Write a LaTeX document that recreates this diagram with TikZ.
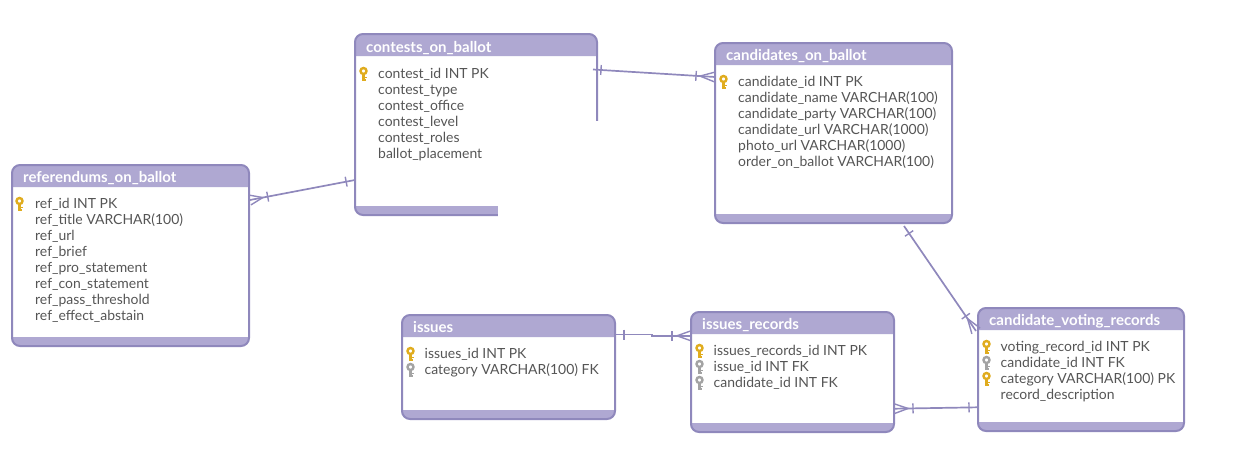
\documentclass[tikz,border=0pt]{standalone}
\usepackage{fontspec}
\setmainfont{Lato}
\usetikzlibrary{calc}
\definecolor{edgecol}{HTML}{8F88BC}
\definecolor{bandcol}{HTML}{AFA8D2}
\definecolor{inkcol}{HTML}{555555}
\definecolor{goldcol}{HTML}{E0AC1E}
\definecolor{greycol}{HTML}{A3A3A3}
\tikzset{
  tablebox/.style={anchor=north west,inner sep=0pt,outer sep=0pt,fill=white},
  border/.style={draw=edgecol,line width=2pt,rounded corners=8pt},
  titletext/.style={anchor=base west,inner sep=0pt,text=white,font=\fontsize{15}{16}\selectfont\bfseries},
  bodytext/.style={anchor=north west,inner sep=0pt,text=inkcol,align=left,font=\fontsize{13.95}{16}\selectfont},
  conn/.style={draw=edgecol,line width=1.7pt},
  tickmark/.style={draw=edgecol,line width=1.4pt},
}
\newcommand{\tbl}[9]{% id L T R B headerbottom footertop title title-baseline
  \pgfmathsetmacro{\boxw}{#4-#2}\pgfmathsetmacro{\boxh}{#5-#3}
  \node[tablebox,minimum width=\boxw pt,minimum height=\boxh pt,rounded corners=8pt] (#1) at (#2,#3) {};
  \fill[bandcol,rounded corners=8pt] (#2,#6) -- (#2,#3) -- (#4,#3) -- (#4,#6);
  \fill[bandcol,rounded corners=8pt] (#2,#7) -- (#2,#5) -- (#4,#5) -- (#4,#7);
  \draw[border] (#1.north west) rectangle (#1.south east);
  \node[titletext] (#1-title) at (#2+11,#9) {#8};
}
\newcommand{\keyicon}[3]{% x ringcentre-y colour
  \begin{scope}[shift={(#1,#2)}]
    \draw[#3,line width=2.4pt] (0,0) circle (3pt);
    \fill[#3] (-2,3.5) rectangle (1.4,9.5);
    \fill[#3] (1.4,5.5) rectangle (3.4,7.2);
    \fill[#3] (1.4,8) rectangle (2.8,9.5);
  \end{scope}
}
\newcommand{\barmark}[3]{% a b distance
  \path ($(#1)!#3pt!(#2)$) coordinate (tt);
  \draw[tickmark] ($(tt)!5pt!90:(#2)$) -- ($(tt)!5pt!-90:(#2)$);
}
\newcommand{\crowfoot}[3]{% a b length
  \path ($(#1)!#3pt!(#2)$) coordinate (tt);
  \draw[tickmark] ($(#1)!5pt!90:(#2)$) -- (tt) -- ($(#1)!5pt!-90:(#2)$);
}
\begin{document}
\begin{tikzpicture}[x=1pt,y=-1pt]
\useasboundingbox (0,0) rectangle (1235,474);
\tbl{contests}{355}{34}{597}{215}{56}{206}{contests\_on\_ballot}{52}
\tbl{candidates}{715}{43}{952}{223}{65}{214}{candidates\_on\_ballot}{60.5}
\tbl{referendums}{12}{165}{249}{346}{187}{337}{referendums\_on\_ballot}{182.5}
\tbl{issues}{402}{315}{615}{419}{337}{410}{issues}{332}
\tbl{records}{691}{312}{894}{432}{334}{423}{issues\_records}{329}
\tbl{voting}{978}{308}{1184}{431}{330}{422}{candidate\_voting\_records}{325.5}
% the contests box is left unfinished in the picture
\fill[white] (498,121) rectangle (600,220);
\node[bodytext] (contests-rows) at (378,68.5) {contest\_id INT PK\\contest\_type\\contest\_office\\contest\_level\\contest\_roles\\ballot\_placement};
\node[bodytext] (candidates-rows) at (738,76.5) {candidate\_id INT PK\\candidate\_name VARCHAR(100)\\candidate\_party VARCHAR(100)\\candidate\_url VARCHAR(1000)\\photo\_url VARCHAR(1000)\\order\_on\_ballot VARCHAR(100)};
\node[bodytext] (referendums-rows) at (35,198.5) {ref\_id INT PK\\ref\_title VARCHAR(100)\\ref\_url\\ref\_brief\\ref\_pro\_statement\\ref\_con\_statement\\ref\_pass\_threshold\\ref\_effect\_abstain};
\node[bodytext] (issues-rows) at (424.5,348.5) {issues\_id INT PK\\category VARCHAR(100) FK};
\node[bodytext] (records-rows) at (713.5,345.5) {issues\_records\_id INT PK\\issue\_id INT FK\\candidate\_id INT FK};
\node[bodytext] (voting-rows) at (1000.5,341.5) {voting\_record\_id INT PK\\candidate\_id INT FK\\category VARCHAR(100) PK\\record\_description};
\keyicon{363.5}{71}{goldcol}
\keyicon{723.5}{79}{goldcol}
\keyicon{19.5}{201}{goldcol}
\keyicon{410.5}{351}{goldcol}
\keyicon{410.5}{367}{greycol}
\keyicon{699.5}{348}{goldcol}
\keyicon{699.5}{364}{greycol}
\keyicon{699.5}{380}{greycol}
\keyicon{986.5}{344}{goldcol}
\keyicon{986.5}{360}{greycol}
\keyicon{986.5}{376}{goldcol}
% connectors
\coordinate (aa) at ($(contests.north east)+(-4,35.5)$);
\coordinate (ab) at ($(candidates.north west)+(0,34)$);
\draw[conn] (aa) -- (ab);
\barmark{aa}{ab}{8}\barmark{ab}{aa}{19}\crowfoot{ab}{aa}{15}
\coordinate (ba) at ($(referendums.north east)+(1,35)$);
\coordinate (bb) at ($(contests.north west)+(0,146)$);
\draw[conn] (ba) -- (bb);
\crowfoot{ba}{bb}{13}\barmark{ba}{bb}{18}\barmark{bb}{ba}{9}
\coordinate (ca) at ($(issues.north east)+(0,19.5)$);
\coordinate (cm) at ($(issues.north east)+(37,19.5)$);
\coordinate (cn) at ($(records.north west)+(-39,23.8)$);
\coordinate (cb) at ($(records.north west)+(0,23.8)$);
\draw[conn] (ca) -- (cm) -- (cn) -- (cb);
\barmark{ca}{cm}{9}\barmark{cb}{cn}{19}\crowfoot{cb}{cn}{14}
\coordinate (da) at ($(records.north east)+(0,96.7)$);
\coordinate (db) at ($(voting.north west)+(0,99.3)$);
\draw[conn] (da) -- (db);
\crowfoot{da}{db}{14}\barmark{da}{db}{19}\barmark{db}{da}{9}
\coordinate (ea) at ($(candidates.south east)+(-48,3)$);
\coordinate (eb) at ($(voting.north west)+(-2,23)$);
\draw[conn] (ea) -- (eb);
\barmark{ea}{eb}{9}\barmark{eb}{ea}{18}\crowfoot{eb}{ea}{15}
\end{tikzpicture}
\end{document}
